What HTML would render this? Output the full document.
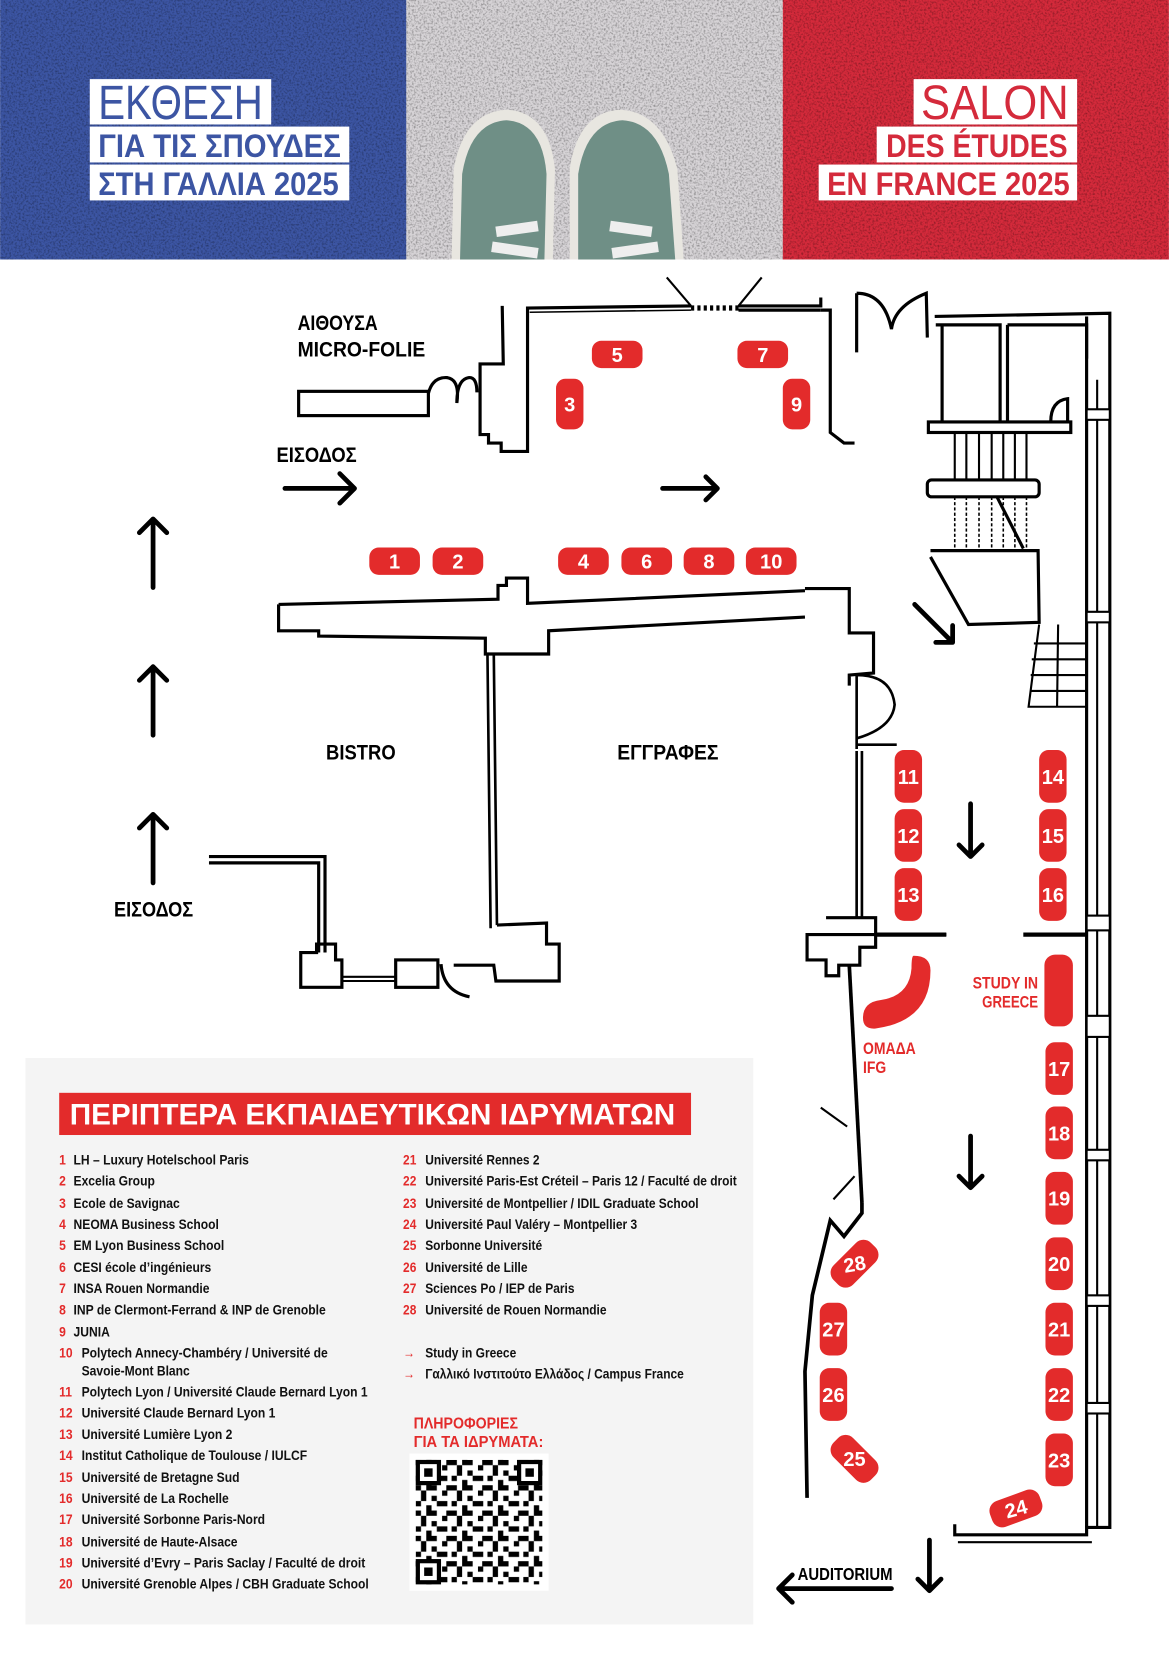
<!DOCTYPE html>
<html><head><meta charset="utf-8">
<style>
html,body{margin:0;padding:0;background:#fff;}
svg{display:block;}
text{font-family:"Liberation Sans Narrow","Liberation Sans","DejaVu Sans Condensed",sans-serif;font-weight:bold;}
</style></head>
<body>
<svg width="1169" height="1654" viewBox="0 0 1108 1568" xmlns="http://www.w3.org/2000/svg">
<defs>
<filter id="noise" x="0" y="0" width="100%" height="100%">
<feTurbulence type="fractalNoise" baseFrequency="0.55" numOctaves="2" seed="3" result="n"/>
<feColorMatrix type="matrix" values="0 0 0 0 0  0 0 0 0 0  0 0 0 0 0  0 0 0 -2.2 1.25"/>
</filter>
<pattern id="qr" x="394" y="1384" width="34" height="24" patternUnits="userSpaceOnUse">
<rect x="0" y="0" width="5" height="5" fill="#000"/><rect x="10" y="0" width="10" height="5" fill="#000"/><rect x="25" y="5" width="5" height="5" fill="#000"/>
<rect x="5" y="5" width="5" height="10" fill="#000"/><rect x="15" y="10" width="5" height="5" fill="#000"/><rect x="20" y="15" width="10" height="5" fill="#000"/>
<rect x="0" y="15" width="5" height="5" fill="#000"/><rect x="10" y="19" width="5" height="5" fill="#000"/><rect x="29" y="0" width="5" height="5" fill="#000"/>
</pattern>
</defs>

<!-- Banner -->
<rect x="0" y="0" width="388" height="246" fill="#3c55a3"/>
<rect x="385" y="0" width="360" height="246" fill="#d6d3d6"/>
<rect x="742" y="0" width="366" height="246" fill="#d42a3b"/>
<rect x="0" y="0" width="1108" height="246" filter="url(#noise)" opacity="0.35"/>
<!-- shoes -->
<path d="M428 246 L430 160 Q440 106 480 104 Q520 106 526 160 L524 246 Z" fill="#e8e6e0"/>
<path d="M436 246 L438 165 Q446 116 480 114 Q514 116 518 165 L516 246 Z" fill="#6f8f86"/>
<path d="M540 246 L540 160 Q548 106 588 104 Q628 106 642 160 L648 246 Z" fill="#e8e6e0"/>
<path d="M548 246 L548 165 Q556 116 590 114 Q624 116 634 165 L640 246 Z" fill="#6f8f86"/>
<rect x="470" y="212" width="40" height="10" fill="#eee" transform="rotate(-8 490 217)"/>
<rect x="466" y="232" width="44" height="10" fill="#eee" transform="rotate(8 488 237)"/>
<rect x="578" y="212" width="40" height="10" fill="#eee" transform="rotate(8 598 217)"/>
<rect x="580" y="232" width="44" height="10" fill="#eee" transform="rotate(-8 602 237)"/>

<rect x="85" y="75" width="172" height="43" fill="#fff"/>
<text x="93" y="113" font-size="46" fill="#3c55a3" style="font-weight:normal" textLength="156" lengthAdjust="spacingAndGlyphs">ΕΚΘΕΣΗ</text>
<rect x="85" y="120" width="246" height="34" fill="#fff"/>
<text x="93" y="149" font-size="31" fill="#3c55a3" textLength="230" lengthAdjust="spacingAndGlyphs">ΓΙΑ ΤΙΣ ΣΠΟΥΔΕΣ</text>
<rect x="85" y="156" width="246" height="34" fill="#fff"/>
<text x="93" y="185" font-size="31" fill="#3c55a3" textLength="228" lengthAdjust="spacingAndGlyphs">ΣΤΗ ΓΑΛΛΙΑ 2025</text>

<rect x="866" y="75" width="155" height="43" fill="#fff"/>
<text x="873" y="113" font-size="46" fill="#d42a3b" style="font-weight:normal" textLength="140" lengthAdjust="spacingAndGlyphs">SALON</text>
<rect x="831" y="120" width="190" height="34" fill="#fff"/>
<text x="840" y="149" font-size="31" fill="#d42a3b" textLength="172" lengthAdjust="spacingAndGlyphs">DES ÉTUDES</text>
<rect x="776" y="156" width="245" height="34" fill="#fff"/>
<text x="784" y="185" font-size="31" fill="#d42a3b" textLength="230" lengthAdjust="spacingAndGlyphs">EN FRANCE 2025</text>

<!-- Walls -->
<g fill="none" stroke="#000" stroke-width="3" stroke-linejoin="miter">
<rect x="283" y="371" width="123" height="23"/>
<path d="M406 373 Q410 357 424 358 Q436 360 433 382 Q433 360 444 358 Q452 357 452 372"/>
<path d="M476 290 L477 345 L455 345 L455 412 L463 412 L463 420 L475 420 L475 428 L500 428 L500 292 L655 290"/>
<path d="M502 296 L655 294" stroke-width="1.5"/>
<path d="M700 290 L778 290 L778 282 M700 294 L778 294" />
<path d="M655 292 L700 292" stroke-dasharray="3 3" stroke-width="5"/>
<path d="M632 263 L655 290 M722 263 L700 290" stroke-width="2"/>
<path d="M778 294 L787 294 L787 410 L800 420 L810 420"/>
<path d="M812 278 L812 334 M812 278 Q838 278 845 312 Q848 290 878 278 L879 320"/>
<path d="M886 300 L1052 297 L1052 1448 L1030 1448 L1030 1455 L905 1455 L905 1445"/>
<path d="M908 1462 L1035 1462" stroke-width="2"/>
<path d="M1030 300 L1030 1448" stroke-width="3"/>
<path d="M1040 360 L1040 1448" stroke-width="2"/>
<path d="M887 308 L948 308 L948 400 M893 308 L893 400 M955 308 L1030 308 L1030 340 M955 308 L955 400"/>
<rect x="880" y="400" width="135" height="10"/>
<path d="M996 400 Q996 380 1012 378 L1012 400"/>
<path d="M905 410 L905 455 M916 410 L916 455 M928 410 L928 455 M940 410 L940 455 M951 410 L951 455 M962 410 L962 455 M973 410 L973 455" stroke-width="2"/>
<rect x="879" y="455" width="106" height="16" rx="4"/>
<path d="M905 471 L905 520 M916 471 L916 520 M928 471 L928 520 M940 471 L940 520 M951 471 L951 520 M962 471 L962 520 M973 471 L973 520" stroke-width="1.5" stroke-dasharray="3 2"/>
<path d="M945 471 L970 520" stroke-width="3"/>
<path d="M882 522 L984 522 L985 590 L918 592 L882 528"/>
<path d="M985 592 L975 670 L1030 670 M980 610 L1030 610 M978 625 L1030 625 M977 640 L1030 640 M976 655 L1030 655 M1003 592 L1002 670" stroke-width="2"/>
<path d="M264 573 L264 598 L302 598 L302 603 L460 605 L460 620 L520 620 L520 598 L763 585 M264 573 L472 568 L472 555 L480 555 L480 548 L500 548 L500 572 L763 560"/>
<path d="M763 558 L805 558 L805 600 L828 600 L828 638 L805 640 L805 650"/>
<path d="M462 620 L465 880 M468 620 L471 877" stroke-width="2.5"/>
<path d="M471 877 L518 875 L518 895 L530 895 L530 930 L470 930 L468 915 L430 915"/>
<path d="M198 812 L308 812 L308 903 M198 818 L302 818 L302 903"/>
<path d="M285 903 L300 903 L300 895 L318 895 L318 910 L324 910 L324 936 L285 936 Z"/>
<path d="M324 930 L375 930 M324 926 L375 926" stroke-width="2"/>
<rect x="375" y="910" width="40" height="26"/>
<path d="M418 914 Q420 940 445 945"/>
<path d="M812 640 L812 710 M812 640 Q845 640 848 668 Q846 690 812 700 M812 706 L850 706 M812 712 L812 870 M817 712 L817 870" stroke-width="2.5"/>
<path d="M783 870 L830 870 L830 886 L897 886 M830 886 L830 898 L815 898 L815 915 L795 915 L795 925 L783 925 L783 910 L765 910 L765 886 L783 886 Z"/>
<path d="M970 886 L1030 886" stroke-width="4"/>
<path d="M830 886 L897 886" stroke-width="4"/>
<path d="M805 915 L817 1140" stroke-width="3.5"/>
<path d="M817 1140 L817 1150 L800 1172 L787 1157 L770 1228 L763 1300 L765 1420" stroke-width="3.5"/>
<path d="M778 1050 L803 1068 M790 1137 L810 1115" stroke-width="2"/>
</g>
<g fill="#fff" stroke="#000" stroke-width="2">
<rect x="1030" y="388" width="22" height="10"/><rect x="1030" y="580" width="22" height="10"/><rect x="1030" y="868" width="22" height="14"/><rect x="1030" y="963" width="22" height="20"/><rect x="1030" y="1090" width="22" height="10"/><rect x="1030" y="1228" width="22" height="10"/><rect x="1030" y="1330" width="22" height="10"/>
</g>

<!-- Arrows -->
<g fill="none" stroke="#000" stroke-width="4.5" stroke-linecap="round" stroke-linejoin="round">
<path d="M145 557 L145 492 M132 505 L145 492 L158 505"/>
<path d="M145 697 L145 632 M132 645 L145 632 L158 645"/>
<path d="M145 837 L145 772 M132 785 L145 772 L158 785"/>
<path d="M270 463 L336 463 M322 449 L336 463 L322 477"/>
<path d="M628 463 L680 463 M669 452 L680 463 L669 474"/>
<path d="M867 573 L903 609 M903 593 L903 609 L887 609"/>
<path d="M920 762 L920 812 M909 801 L920 812 L931 801"/>
<path d="M920 1077 L920 1126 M909 1115 L920 1126 L931 1115"/>
<path d="M881 1460 L881 1508 M870 1497 L881 1508 L892 1497"/>
<path d="M845 1506 L738 1506 M751 1493 L738 1506 L751 1519"/>
</g>

<!-- Labels -->
<g fill="#000" font-size="20">
<text x="282" y="313" textLength="76" lengthAdjust="spacingAndGlyphs">ΑΙΘΟΥΣΑ</text>
<text x="282" y="338" textLength="121" lengthAdjust="spacingAndGlyphs">MICRO-FOLIE</text>
<text x="262" y="438" textLength="76" lengthAdjust="spacingAndGlyphs">ΕΙΣΟΔΟΣ</text>
<text x="309" y="720" textLength="66" lengthAdjust="spacingAndGlyphs">BISTRO</text>
<text x="585" y="720" textLength="96" lengthAdjust="spacingAndGlyphs">ΕΓΓΡΑΦΕΣ</text>
<text x="108" y="869" textLength="75" lengthAdjust="spacingAndGlyphs">ΕΙΣΟΔΟΣ</text>
<text x="756" y="1498" font-size="17" textLength="90" lengthAdjust="spacingAndGlyphs">AUDITORIUM</text>
</g>
<g fill="#e32b2b" font-size="16">
<text x="922" y="937" textLength="62" lengthAdjust="spacingAndGlyphs">STUDY IN</text>
<text x="931" y="955" textLength="53" lengthAdjust="spacingAndGlyphs">GREECE</text>
<text x="818" y="999" textLength="50" lengthAdjust="spacingAndGlyphs">ΟΜΑΔΑ</text>
<text x="818" y="1017" textLength="22" lengthAdjust="spacingAndGlyphs">IFG</text>
</g>

<!-- Booths -->
<g fill="#e32b2b">
<rect x="350" y="519" width="48" height="26" rx="9"/><rect x="410" y="519" width="48" height="26" rx="9"/>
<rect x="529" y="519" width="48" height="26" rx="9"/><rect x="589" y="519" width="48" height="26" rx="9"/>
<rect x="648" y="519" width="48" height="26" rx="9"/><rect x="707" y="519" width="48" height="26" rx="9"/>
<rect x="561" y="323" width="48" height="26" rx="9"/><rect x="699" y="323" width="48" height="26" rx="9"/>
<rect x="527" y="359" width="26" height="48" rx="9"/><rect x="742" y="359" width="26" height="48" rx="9"/>
<rect x="848" y="711" width="26" height="50" rx="9"/><rect x="848" y="767" width="26" height="50" rx="9"/><rect x="848" y="823" width="26" height="50" rx="9"/>
<rect x="985" y="711" width="26" height="50" rx="9"/><rect x="985" y="767" width="26" height="50" rx="9"/><rect x="985" y="823" width="26" height="50" rx="9"/>
<rect x="990" y="905" width="27" height="68" rx="10"/>
<rect x="991" y="988" width="26" height="50" rx="9"/><rect x="991" y="1049" width="26" height="50" rx="9"/><rect x="991" y="1111" width="26" height="50" rx="9"/>
<rect x="991" y="1173" width="26" height="50" rx="9"/><rect x="991" y="1235" width="26" height="50" rx="9"/><rect x="991" y="1297" width="26" height="50" rx="9"/><rect x="991" y="1359" width="26" height="50" rx="9"/>
<rect x="777" y="1235" width="26" height="50" rx="9"/><rect x="777" y="1297" width="26" height="50" rx="9"/>
<rect x="785" y="1185" width="50" height="26" rx="10" transform="rotate(-45 810 1198)"/>
<rect x="785" y="1370" width="50" height="26" rx="10" transform="rotate(45 810 1383)"/>
<rect x="938" y="1417" width="50" height="26" rx="10" transform="rotate(-20 963 1430)"/>
<path d="M866 906 Q882 906 882 920 Q882 968 830 975 Q818 976 818 965 Q818 950 835 948 Q862 944 864 918 Q864 906 866 906 Z"/>
</g>
<g fill="#fff" font-size="19" text-anchor="middle">
<text x="374" y="539">1</text><text x="434" y="539">2</text><text x="553" y="539">4</text><text x="613" y="539">6</text><text x="672" y="539">8</text><text x="731" y="539">10</text>
<text x="585" y="343">5</text><text x="723" y="343">7</text><text x="540" y="390">3</text><text x="755" y="390">9</text>
<text x="861" y="743">11</text><text x="861" y="799">12</text><text x="861" y="855">13</text>
<text x="998" y="743">14</text><text x="998" y="799">15</text><text x="998" y="855">16</text>
<text x="1004" y="1020">17</text><text x="1004" y="1081">18</text><text x="1004" y="1143">19</text><text x="1004" y="1205">20</text><text x="1004" y="1267">21</text><text x="1004" y="1329">22</text><text x="1004" y="1391">23</text>
<text x="790" y="1267">27</text><text x="790" y="1329">26</text>
<text x="810" y="1205" transform="rotate(-10 810 1198)">28</text>
<text x="810" y="1390">25</text>
<text x="963" y="1437" transform="rotate(-15 963 1430)">24</text>
</g>

<!-- Legend -->
<rect x="24" y="1003" width="690" height="537" fill="#f4f4f4"/>
<rect x="56" y="1036" width="599" height="40" fill="#e32b2b"/>
<text x="66" y="1066" font-size="28" fill="#fff" textLength="574" lengthAdjust="spacingAndGlyphs">ΠΕΡΙΠΤΕΡΑ ΕΚΠΑΙΔΕΥΤΙΚΩΝ ΙΔΡΥΜΑΤΩΝ</text>
<g font-size="13.5" style="font-weight:normal">
<g transform="translate(56 0) scale(0.85 1) translate(-56 0)">
<g fill="#e32b2b">
<text x="56" y="1104">1</text><text x="56" y="1124">2</text><text x="56" y="1145">3</text><text x="56" y="1165">4</text><text x="56" y="1185">5</text><text x="56" y="1206">6</text><text x="56" y="1226">7</text><text x="56" y="1246">8</text><text x="56" y="1267">9</text><text x="56" y="1287">10</text>
<text x="56" y="1324">11</text><text x="56" y="1344">12</text><text x="56" y="1364">13</text><text x="56" y="1384">14</text><text x="56" y="1405">15</text><text x="56" y="1425">16</text><text x="56" y="1445">17</text><text x="56" y="1466">18</text><text x="56" y="1486">19</text><text x="56" y="1506">20</text>
</g>
<g fill="#111">
<text x="72" y="1104">LH – Luxury Hotelschool Paris</text>
<text x="72" y="1124">Excelia Group</text>
<text x="72" y="1145">Ecole de Savignac</text>
<text x="72" y="1165">NEOMA Business School</text>
<text x="72" y="1185">EM Lyon Business School</text>
<text x="72" y="1206">CESI école d’ingénieurs</text>
<text x="72" y="1226">INSA Rouen Normandie</text>
<text x="72" y="1246">INP de Clermont-Ferrand &amp; INP de Grenoble</text>
<text x="72" y="1267">JUNIA</text>
<text x="81" y="1287">Polytech Annecy-Chambéry / Université de</text>
<text x="81" y="1304">Savoie-Mont Blanc</text>
<text x="81" y="1324">Polytech Lyon / Université Claude Bernard Lyon 1</text>
<text x="81" y="1344">Université Claude Bernard Lyon 1</text>
<text x="81" y="1364">Université Lumière Lyon 2</text>
<text x="81" y="1384">Institut Catholique de Toulouse / IULCF</text>
<text x="81" y="1405">Université de Bretagne Sud</text>
<text x="81" y="1425">Université de La Rochelle</text>
<text x="81" y="1445">Université Sorbonne Paris-Nord</text>
<text x="81" y="1466">Université de Haute-Alsace</text>
<text x="81" y="1486">Université d’Evry – Paris Saclay / Faculté de droit</text>
<text x="81" y="1506">Université Grenoble Alpes / CBH Graduate School</text>
</g>
</g>
<g transform="translate(382 0) scale(0.84 1) translate(-382 0)">
<g fill="#e32b2b">
<text x="382" y="1104">21</text><text x="382" y="1124">22</text><text x="382" y="1145">23</text><text x="382" y="1165">24</text><text x="382" y="1185">25</text><text x="382" y="1206">26</text><text x="382" y="1226">27</text><text x="382" y="1246">28</text>
<text x="382" y="1287">→</text><text x="382" y="1307">→</text>
</g>
<g fill="#111">
<text x="407" y="1104">Université Rennes 2</text>
<text x="407" y="1124">Université Paris-Est Créteil – Paris 12 / Faculté de droit</text>
<text x="407" y="1145">Université de Montpellier / IDIL Graduate School</text>
<text x="407" y="1165">Université Paul Valéry – Montpellier 3</text>
<text x="407" y="1185">Sorbonne Université</text>
<text x="407" y="1206">Université de Lille</text>
<text x="407" y="1226">Sciences Po / IEP de Paris</text>
<text x="407" y="1246">Université de Rouen Normandie</text>
<text x="407" y="1287">Study in Greece</text>
<text x="407" y="1307">Γαλλικό Ινστιτούτο Ελλάδος / Campus France</text>
</g>
</g>
</g>
<text x="392" y="1354" font-size="15" fill="#e32b2b" textLength="99" lengthAdjust="spacingAndGlyphs">ΠΛΗΡΟΦΟΡΙΕΣ</text>
<text x="392" y="1372" font-size="15" fill="#e32b2b" textLength="123" lengthAdjust="spacingAndGlyphs">ΓΙΑ ΤΑ ΙΔΡΥΜΑΤΑ:</text>
<rect x="388" y="1378" width="132" height="130" fill="#fff"/>
<rect x="394" y="1384" width="120" height="118" fill="url(#qr)"/>
<g fill="#fff" stroke="#000" stroke-width="4">
<rect x="396" y="1386" width="20" height="20"/><rect x="492" y="1386" width="20" height="20"/><rect x="396" y="1480" width="20" height="20"/>
</g>
<g fill="#000"><rect x="402" y="1392" width="8" height="8"/><rect x="498" y="1392" width="8" height="8"/><rect x="402" y="1486" width="8" height="8"/></g>
</svg>
</body></html>
